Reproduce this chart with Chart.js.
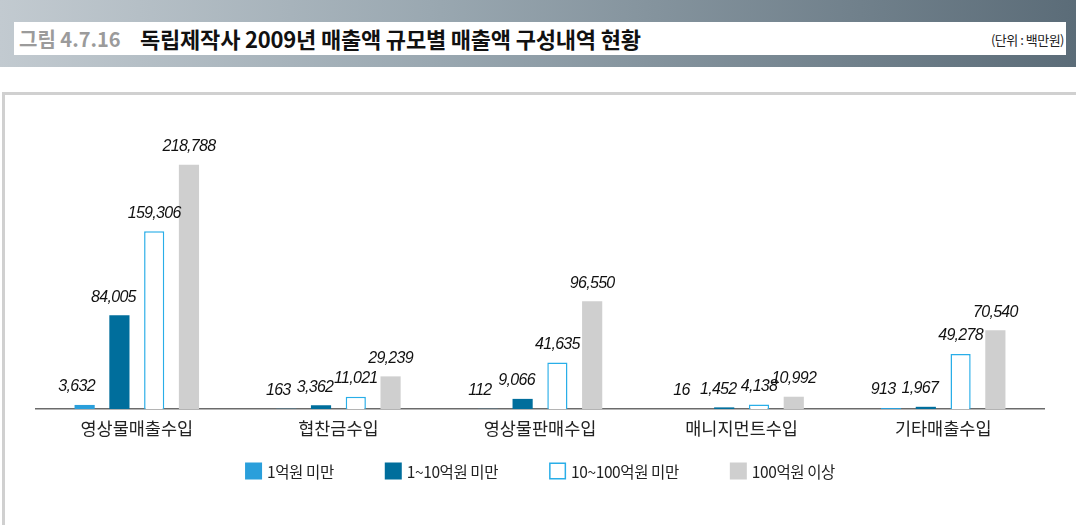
<!DOCTYPE html>
<html><head><meta charset="utf-8">
<script src="https://cdn.jsdelivr.net/npm/chart.js@4.4.0/dist/chart.umd.min.js"></script>
<style>
html,body{margin:0;padding:0;background:#fff;width:1076px;height:525px;overflow:hidden;position:relative;}
#band{position:absolute;left:0;top:0;width:1076px;height:67px;background:linear-gradient(to right,#c2cad0 0%,#9aa8b1 40%,#5b6c78 100%);}
#tbox{position:absolute;left:14px;top:22px;width:1052px;height:33px;background:#fff;}
#fig{position:absolute;left:5px;top:0;font:bold 20px "Noto Sans CJK KR";line-height:33px;color:#9b9b9b;white-space:nowrap;}
#title{position:absolute;left:126px;top:0;font:bold 22px "Noto Sans CJK KR";line-height:33px;color:#111;white-space:nowrap;letter-spacing:-0.2px;}
#unit{position:absolute;right:2px;top:0;font:13px "Noto Sans CJK KR";line-height:35px;color:#222;white-space:nowrap;letter-spacing:-0.5px;}
#frame{position:absolute;left:2px;top:92px;width:1074px;height:433px;border-top:3px solid #d0d0d0;border-left:3px solid #d0d0d0;box-sizing:border-box;}
#wrap{position:absolute;left:5px;top:95px;width:1071px;height:430px;}
</style>
</head><body>
<div id="band"><div id="tbox"><div id="fig">그림 4.7.16</div><div id="title">독립제작사 2009년 매출액 규모별 매출액 구성내역 현황</div><div id="unit">(단위 : 백만원)</div></div></div>
<div id="frame"></div>
<div id="wrap"><canvas id="c" width="1071" height="430"></canvas></div>
<script>
const categories = ['영상물매출수입','협찬금수입','영상물판매수입','매니지먼트수입','기타매출수입'];
const seriesNames = ['1억원 미만','1~10억원 미만','10~100억원 미만','100억원 이상'];
const under1 = [3632, 163, 112, 16, 913];
const from1to10 = [84005, 3362, 9066, 1452, 1967];
const from10to100 = [159306, 11021, 41635, 4138, 49278];
const over100 = [218788, 29239, 96550, 10992, 70540];

const valueLabels = {
  id: 'valueLabels',
  afterDatasetsDraw(chart, args, opts) {
    const ctx = chart.ctx;
    ctx.save();
    ctx.font = 'italic 16px "Liberation Sans"';
    ctx.letterSpacing = '-0.7px';
    ctx.fillStyle = '#111';
    ctx.textAlign = 'center';
    ctx.textBaseline = 'middle';
    chart.data.datasets.forEach((ds, di) => {
      const meta = chart.getDatasetMeta(di);
      meta.data.forEach((el, i) => {
        const v = ds.data[i];
        ctx.fillText(v.toLocaleString('en-US'), el.x + opts.dx[di], el.y - 18);
      });
    });
    ctx.restore();
  }
};

const customLegend = {
  id: 'customLegend',
  afterDraw(chart, args, opts) {
    const ctx = chart.ctx;
    ctx.save();
    ctx.font = '15.5px "Noto Sans CJK KR"';
    ctx.letterSpacing = '-0.4px';
    const box = 17, tgap = 5, igap = 51;
    const items = chart.data.datasets.map(ds => ({text: ds.label, fill: ds.backgroundColor, stroke: ds.borderColor, bw: ds.borderWidth || 0, w: ctx.measureText(ds.label).width}));
    let total = 0;
    items.forEach((it, i) => { total += box + tgap + it.w + (i < items.length - 1 ? igap : 0); });
    const ca = chart.chartArea;
    let x = (ca.left + ca.right) / 2 - total / 2;
    const yc = opts.y;
    ctx.textBaseline = 'middle';
    ctx.textAlign = 'left';
    items.forEach(it => {
      ctx.fillStyle = it.fill;
      ctx.fillRect(x, yc - box / 2, box, box);
      if (it.bw) {
        ctx.strokeStyle = it.stroke;
        ctx.lineWidth = 1.5;
        ctx.strokeRect(x + 0.75, yc - box / 2 + 0.75, box - 1.5, box - 1.5);
      }
      ctx.fillStyle = '#222';
      ctx.fillText(it.text, x + box + tgap, yc + 1);
      x += box + tgap + it.w + igap;
    });
    ctx.restore();
  }
};

const common = {categoryPercentage: 0.69, barPercentage: 0.58};
new Chart(document.getElementById('c'), {
  type: 'bar',
  data: {
    labels: categories,
    datasets: [
      Object.assign({label: seriesNames[0], data: under1, backgroundColor: '#2a9fdb', borderWidth: 0}, common),
      Object.assign({label: seriesNames[1], data: from1to10, backgroundColor: '#006e9c', borderWidth: 0}, common),
      Object.assign({label: seriesNames[2], data: from10to100, backgroundColor: '#ffffff', borderColor: '#29aee8', borderWidth: 1.5}, common),
      Object.assign({label: seriesNames[3], data: over100, backgroundColor: '#cfcfcf', borderWidth: 0}, common)
    ]
  },
  options: {
    responsive: false,
    animation: false,
    layout: {padding: {left: 31, right: 32, top: 35, bottom: 77}},
    plugins: {
      legend: {display: false},
      tooltip: {enabled: false},
      valueLabels: {dx: [-8, -6, 0, 0]},
      customLegend: {y: 376}
    },
    scales: {
      x: {
        grid: {display: false, drawTicks: false},
        border: {color: '#6b6b6b', width: 1.5},
        ticks: {font: {size: 17.5, family: '"Noto Sans CJK KR"'}, color: '#222', padding: 9}
      },
      y: {display: false, min: 0, max: 250000}
    }
  },
  plugins: [valueLabels, customLegend]
});
</script>
</body></html>
